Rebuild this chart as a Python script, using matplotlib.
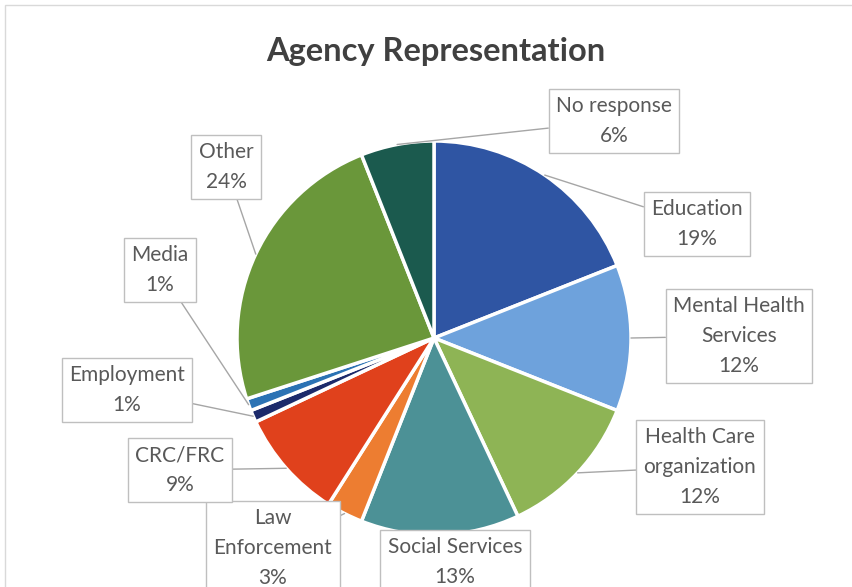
import numpy as np
import matplotlib

matplotlib.use("Agg")
import matplotlib.pyplot as plt
from matplotlib.patches import Rectangle

plt.rcParams["font.family"] = ["Lato", "DejaVu Sans"]

# slices, clockwise from 12 o'clock
categories = [
    "Education", "Mental Health\nServices", "Health Care\norganization",
    "Social Services", "Law\nEnforcement", "CRC/FRC", "Employment",
    "Media", "Other", "No response",
]
shares = [19, 12, 12, 13, 3, 9, 1, 1, 24, 6]
colors = [
    "#2F55A3", "#6EA2DC", "#8EB455", "#4C9196", "#ED7D31",
    "#E0411C", "#1C2A6B", "#2B72B4", "#6A973A", "#1B5A4E",
]
# label box centres in pixels (x from left, y from top)
label_px = [
    (697, 224), (739, 336), (700, 467), (455, 562), (273, 548),
    (180, 470), (127, 390), (160, 270), (226, 167), (614, 121),
]

W, H = 853, 587
CX, CY, R = 434, 338, 197

fig = plt.figure(figsize=(W / 100, H / 100), dpi=100, facecolor="white")
fig.patches.append(Rectangle((5 / W, -0.1), 1.1, (H - 5) / H + 0.1,
                             transform=fig.transFigure, fill=False,
                             edgecolor="#D9D9D9", linewidth=1))

ax = fig.add_axes([(CX - R) / W, (H - CY - R) / H, 2 * R / W, 2 * R / H])
wedges, _ = ax.pie(shares, colors=colors, startangle=90, counterclock=False,
                   radius=1.0,
                   wedgeprops=dict(edgecolor="white", linewidth=2.5))
ax.set_xlim(-1, 1)
ax.set_ylim(-1, 1)
ax.set_aspect("equal")
ax.axis("off")

for w, name, val, (px, py) in zip(wedges, categories, shares, label_px):
    mid = np.deg2rad((w.theta1 + w.theta2) / 2)
    tip = (np.cos(mid), np.sin(mid))
    pos = ((px - CX) / R, (CY - py) / R)
    ax.annotate(f"{name}\n{val}%", xy=tip, xytext=pos,
                ha="center", va="center", fontsize=15, color="#595959",
                linespacing=1.6, annotation_clip=False,
                bbox=dict(boxstyle="square,pad=0.35", fc="white",
                          ec="#BFBFBF", lw=1),
                arrowprops=dict(arrowstyle="-", color="#A6A6A6", lw=1,
                                shrinkA=0, shrinkB=0))

fig.text(436 / W, 1 - 51 / H, "Agency Representation", ha="center",
         va="center", fontsize=23.5, fontweight="bold", color="#404040")

fig.savefig("out.png", dpi=100, facecolor="white")
